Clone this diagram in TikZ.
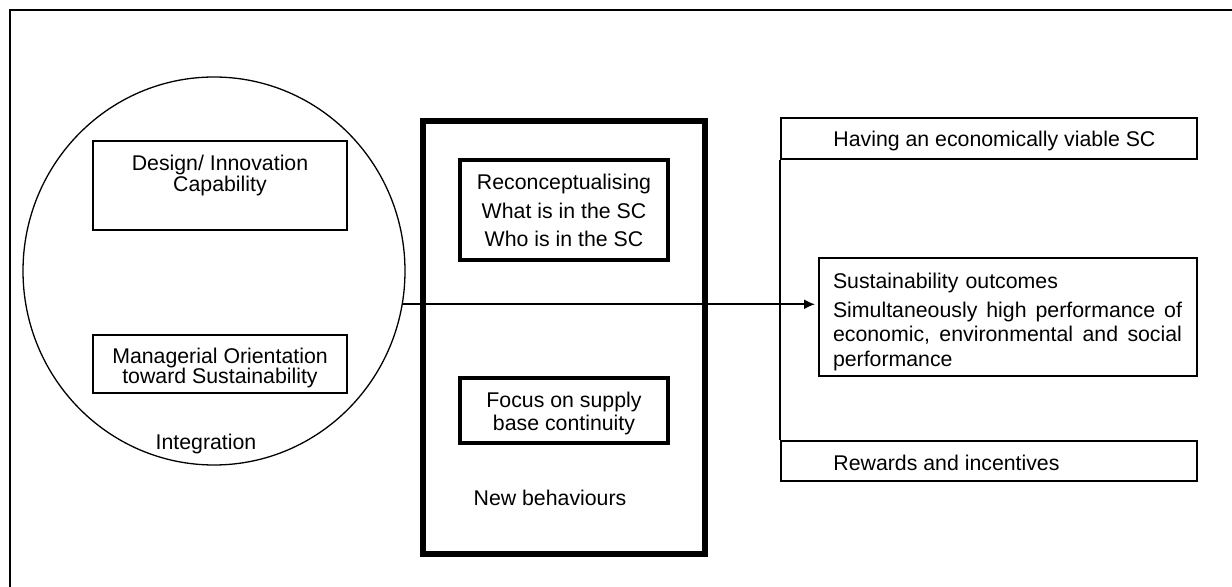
\documentclass[tikz,border=0pt]{standalone}
\usepackage{fontspec}
\setmainfont{Liberation Sans}
\usetikzlibrary{shapes.geometric,arrows.meta}
\tikzset{
  thin box/.style={draw, line width=1pt, inner sep=0pt, rectangle},
  thick box/.style={draw, line width=2.25pt, inner sep=0pt, rectangle},
  outer box/.style={draw, line width=2.75pt, inner sep=0pt, rectangle},
  txt/.style={inner sep=0pt, font=\fontsize{10.65}{12}\selectfont},
}
\begin{document}
\begin{tikzpicture}[x=0.5pt,y=-0.5pt]
\useasboundingbox (0,0) rectangle (1232,587);
% frame
\draw[line width=1pt] (1232,10) -- (10,10) -- (10,587);
% left ellipse
\node[draw, ellipse, line width=0.65pt, inner sep=0pt, minimum width=191pt, minimum height=194pt] (ell) at (214,271) {};
\node[thin box, minimum width=127pt, minimum height=44.5pt] (design) at (220,185.5) {};
\node[txt, align=center, font=\fontsize{10.65}{10.5}\selectfont] (designt) at (220,175) {Design/ Innovation\\Capability};
\node[thin box, minimum width=127pt, minimum height=29pt] (manag) at (220,364) {};
\node[txt, align=center, font=\fontsize{10.65}{10}\selectfont] (managt) at (220,368) {Managerial Orientation\\toward Sustainability};
\node[txt] (integ) at (206,444) {Integration};
% middle
\node[outer box, minimum width=141pt, minimum height=216.5pt] (mid) at (564,337.5) {};
\node[thick box, minimum width=104pt, minimum height=50pt] (recon) at (564,210) {};
\node[txt, align=center, font=\fontsize{10.65}{14.25}\selectfont] (recont) at (564,210.5) {Reconceptualising\\What is in the SC\\Who is in the SC};
\node[thick box, minimum width=104pt, minimum height=32.5pt] (focus) at (564,410.5) {};
\node[txt, align=center, font=\fontsize{10.65}{11.5}\selectfont] (focust) at (564,413) {Focus on supply\\base continuity};
\node[txt] (newb) at (550,498) {New behaviours};
% right
\node[thin box, minimum width=208pt, minimum height=20.5pt] (econ) at (989,138.5) {};
\node[txt, anchor=west] (econt) at (833,141) {Having an economically viable SC};
\node[thin box, minimum width=189pt, minimum height=59pt] (sust) at (1008,317) {};
\node[txt, text width=174.5pt, align=left, font=\fontsize{10.65}{12.25}\selectfont] (sustt) at (1007.5,322)
  {Sustainability outcomes\\[2pt]
   \makebox[174.5pt][s]{Simultaneously\hfill high\hfill performance\hfill of}\\
   \makebox[174.5pt][s]{economic,\hfill environmental\hfill and\hfill social}\\
   performance};
\node[thin box, minimum width=208pt, minimum height=20pt] (rew) at (989,461) {};
\node[txt, anchor=west] (rewt) at (833,463) {Rewards and incentives};
\draw[line width=1pt] (econ.south west) -- (rew.north west);
% arrow
\draw[line width=0.8pt, -{Latex[length=5.5pt,width=5pt]}, shorten >=1.5pt] (ell.-10.8) -- (ell.-10.8 -| sust.west);
\end{tikzpicture}
\end{document}
